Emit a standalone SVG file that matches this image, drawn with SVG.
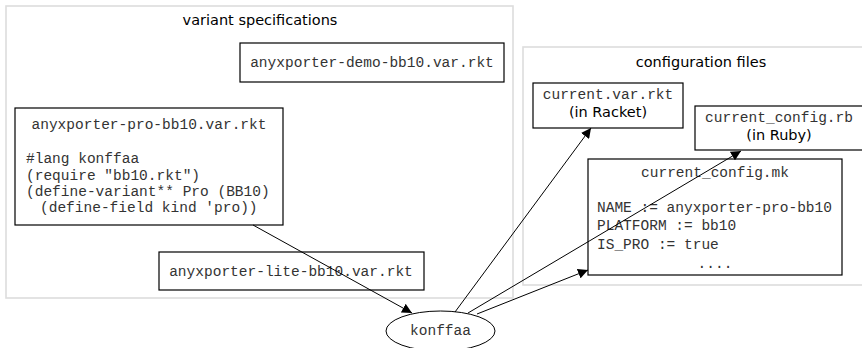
<svg xmlns="http://www.w3.org/2000/svg" width="862" height="348" viewBox="0 0 862 348">
  <style>
    .cluster { fill: #ffffff; stroke: #dddddd; stroke-width: 1.6; }
    .box { fill: #ffffff; stroke: #000000; stroke-width: 1.2; }
    .mono { font-family: "Liberation Mono", "Courier New", monospace; font-size: 14.5px; fill: #333333; }
    .sans { font-family: "DejaVu Sans", "Liberation Sans", sans-serif; font-size: 14.5px; fill: #000000; }
    .mid { text-anchor: middle; }
    .edge { fill: none; stroke: #000000; stroke-width: 1; }
  </style>
  <defs>
    <marker id="arrow" viewBox="0 0 10 10" refX="10" refY="5" markerWidth="10" markerHeight="10" markerUnits="userSpaceOnUse" orient="auto">
      <path d="M0,0 L10,5 L0,10 z" fill="#000000"/>
    </marker>
  </defs>
  <rect width="862" height="348" fill="#ffffff"/>

  <!-- clusters -->
  <g id="cluster-variants">
    <rect class="cluster" x="6" y="6" width="507" height="292"/>
    <text class="sans mid" x="260" y="25">variant specifications</text>
  </g>
  <g id="cluster-config">
    <rect class="cluster" x="523" y="47" width="350" height="238"/>
    <text class="sans mid" x="701" y="67">configuration files</text>
  </g>

  <g id="demo">
    <rect class="box" x="240" y="43" width="264" height="39"/>
    <text class="mono mid" x="372" y="67">anyxporter-demo-bb10.var.rkt</text>
  </g>

  <g id="pro">
    <rect class="box" x="15" y="108" width="268" height="117"/>
    <text class="mono mid" x="149" y="129">anyxporter-pro-bb10.var.rkt</text>
    <text class="mono" x="26" y="163">#lang konffaa</text>
    <text class="mono" x="26" y="180">(require "bb10.rkt")</text>
    <text class="mono" x="26" y="196">(define-variant** Pro (BB10)</text>
    <text class="mono" x="40" y="212">(define-field kind 'pro))</text>
  </g>

  <g id="lite">
    <rect class="box" x="159" y="252" width="265" height="38"/>
    <text class="mono mid" x="291" y="276">anyxporter-lite-bb10.var.rkt</text>
  </g>

  <g id="konffaa">
    <ellipse cx="440.5" cy="331" rx="54.5" ry="20" fill="#ffffff" stroke="#000000" stroke-width="1"/>
    <text class="mono mid" x="440.5" y="335">konffaa</text>
  </g>

  <g id="current-var">
    <rect class="box" x="533" y="83" width="150" height="45"/>
    <text class="mono mid" x="608" y="99">current.var.rkt</text>
    <text class="sans mid" x="608" y="117">(in Racket)</text>
  </g>

  <g id="current-rb">
    <rect class="box" x="695" y="106" width="169" height="44"/>
    <text class="mono mid" x="779" y="122">current_config.rb</text>
    <text class="sans mid" x="779" y="140">(in Ruby)</text>
  </g>

  <g id="current-mk">
    <rect class="box" x="588" y="159" width="254" height="116"/>
    <text class="mono mid" x="715" y="177">current_config.mk</text>
    <text class="mono" x="597" y="212">NAME := anyxporter-pro-bb10</text>
    <text class="mono" x="597" y="230">PLATFORM := bb10</text>
    <text class="mono" x="597" y="249">IS_PRO := true</text>
    <text class="mono mid" x="715" y="268">....</text>
  </g>

  <!-- connectors, drawn on top of the boxes they cross -->
  <g id="connectors">
    <line class="edge" x1="253" y1="225" x2="412" y2="313" marker-end="url(#arrow)"/>
    <line class="edge" x1="455" y1="312" x2="591" y2="128" marker-end="url(#arrow)"/>
    <line class="edge" x1="468" y1="313" x2="741" y2="151" marker-end="url(#arrow)"/>
    <line class="edge" x1="477" y1="314" x2="588" y2="270" marker-end="url(#arrow)"/>
  </g>
</svg>
